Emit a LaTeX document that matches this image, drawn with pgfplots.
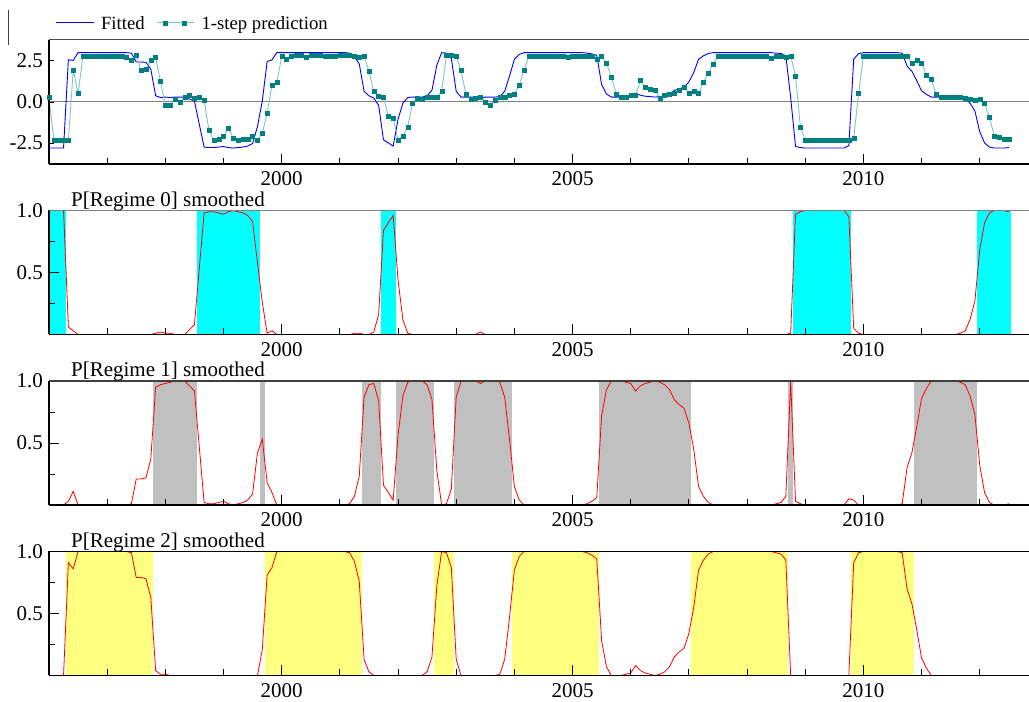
\documentclass[border=0pt]{standalone}
\usepackage{fontspec}
\setmainfont{Liberation Serif}
\usepackage{pgfplots}
\pgfplotsset{compat=1.18}
\usepackage{pgfplotstable}

\definecolor{fitblue}{RGB}{0,0,255}
\definecolor{predline}{RGB}{128,196,196}
\definecolor{predmark}{RGB}{0,128,128}
\definecolor{shcyan}{RGB}{0,255,255}
\definecolor{shgray}{RGB}{192,192,192}
\definecolor{shyellow}{RGB}{255,255,128}

\pgfplotstableread{
t fit pred p0 p1 p2
1996.0000 -2.80 0.28 1 0 0
1996.0833 -2.80 -2.31 1 0 0
1996.1667 -2.80 -2.31 1 0 0
1996.2500 -2.80 -2.31 1 0 0
1996.3333 2.57 -2.31 0.06 0.03 0.91
1996.4167 2.53 1.95 0.03 0.11 0.86
1996.5000 3.00 0.51 0 0 1
1996.5833 3.00 2.76 0 0 1
1996.6667 3.00 2.80 0 0 1
1996.7500 3.00 2.80 0 0 1
1996.8333 3.00 2.80 0 0 1
1996.9167 3.00 2.80 0 0 1
1997.0000 3.00 2.76 0 0 1
1997.0833 3.00 2.80 0 0 1
1997.1667 3.00 2.80 0 0 1
1997.2500 3.00 2.80 0 0 1
1997.3333 3.00 2.72 0 0 1
1997.4167 2.97 2.56 0 0.01 0.99
1997.5000 2.43 2.82 0 0.21 0.79
1997.5833 2.43 1.91 0 0.21 0.79
1997.6667 2.41 2.00 0 0.22 0.78
1997.7500 2.00 2.56 0 0.37 0.63
1997.8333 0.38 2.70 0.01 0.95 0.04
1997.9167 0.27 1.24 0.02 0.97 0.01
1998.0000 0.30 -0.22 0.01 0.98 0.01
1998.0833 0.27 -0.18 0.01 0.99 0
1998.1667 0.30 0.16 0 1 0
1998.2500 0.30 0.02 0 1 0
1998.3333 0.30 0.28 0 1 0
1998.4167 0.18 0.42 0.04 0.96 0
1998.5000 0.05 0.22 0.08 0.92 0
1998.5833 -1.35 0.32 0.53 0.47 0
1998.6667 -2.74 0.12 0.98 0.02 0
1998.7500 -2.77 -1.74 0.99 0.01 0
1998.8333 -2.77 -2.33 0.99 0.01 0
1998.9167 -2.74 -2.25 0.98 0.02 0
1999.0000 -2.71 -2.10 0.97 0.03 0
1999.0833 -2.77 -1.56 0.99 0.01 0
1999.1667 -2.80 -2.20 1 0 0
1999.2500 -2.77 -2.29 0.99 0.01 0
1999.3333 -2.74 -2.25 0.98 0.02 0
1999.4167 -2.68 -2.23 0.96 0.04 0
1999.5000 -2.52 -2.10 0.91 0.09 0
1999.5833 -1.50 -2.31 0.58 0.42 0
1999.6667 0.06 -1.90 0.26 0.53 0.21
1999.7500 2.46 -0.69 0.01 0.18 0.81
1999.8333 2.56 1.05 0.03 0.10 0.87
1999.9167 3.00 1.19 0 0 1
2000.0000 3.00 2.76 0 0 1
2000.0833 3.00 2.62 0 0 1
2000.1667 3.00 2.76 0 0 1
2000.2500 3.00 2.82 0 0 1
2000.3333 3.00 2.82 0 0 1
2000.4167 3.00 2.70 0 0 1
2000.5000 3.00 2.82 0 0 1
2000.5833 3.00 2.82 0 0 1
2000.6667 3.00 2.82 0 0 1
2000.7500 3.00 2.76 0 0 1
2000.8333 3.00 2.76 0 0 1
2000.9167 3.00 2.76 0 0 1
2001.0000 3.00 2.82 0 0 1
2001.0833 3.00 2.82 0 0 1
2001.1667 2.97 2.82 0 0.01 0.99
2001.2500 2.75 2.80 0.01 0.07 0.92
2001.3333 2.32 2.70 0.01 0.23 0.76
2001.4167 0.65 2.76 0 0.87 0.13
2001.5000 0.38 1.88 0 0.97 0.03
2001.5833 0.24 0.65 0.02 0.98 0
2001.6667 -0.20 0.37 0.16 0.84 0
2001.7500 -2.30 0.30 0.84 0.16 0
2001.8333 -2.49 -0.89 0.90 0.10 0
2001.9167 -2.68 -1.01 0.96 0.04 0
2002.0000 -1.06 -2.31 0.44 0.56 0
2002.0833 -0.07 -2.07 0.12 0.88 0
2002.1667 0.27 -1.50 0.01 0.99 0
2002.2500 0.30 -0.08 0 1 0
2002.3333 0.30 0.22 0 1 0
2002.4167 0.30 0.18 0 1 0
2002.5000 0.38 0.32 0 0.97 0.03
2002.5833 0.71 0.32 0 0.85 0.15
2002.6667 2.24 0.32 0 0.28 0.72
2002.7500 3.00 0.63 0 0 1
2002.8333 2.97 2.86 0 0.01 0.99
2002.9167 2.65 2.82 0 0.13 0.87
2003.0000 0.65 2.80 0 0.87 0.13
2003.0833 0.30 1.91 0 1 0
2003.1667 0.30 0.49 0 1 0
2003.2500 0.30 0.20 0 1 0
2003.3333 0.30 0.26 0 1 0
2003.4167 0.24 0.28 0.02 0.98 0
2003.5000 0.30 0.02 0 1 0
2003.5833 0.30 -0.20 0 1 0
2003.6667 0.30 0.12 0 1 0
2003.7500 0.33 0.30 0 0.99 0.01
2003.8333 0.65 0.32 0 0.87 0.13
2003.9167 1.57 0.39 0 0.53 0.47
2004.0000 2.60 0.47 0 0.15 0.85
2004.0833 2.89 1.03 0 0.04 0.96
2004.1667 3.00 1.95 0 0 1
2004.2500 3.00 2.80 0 0 1
2004.3333 3.00 2.80 0 0 1
2004.4167 3.00 2.80 0 0 1
2004.5000 3.00 2.80 0 0 1
2004.5833 3.00 2.80 0 0 1
2004.6667 3.00 2.80 0 0 1
2004.7500 3.00 2.80 0 0 1
2004.8333 3.00 2.80 0 0 1
2004.9167 3.00 2.72 0 0 1
2005.0000 3.00 2.80 0 0 1
2005.0833 3.00 2.80 0 0 1
2005.1667 3.00 2.80 0 0 1
2005.2500 2.97 2.80 0 0.01 0.99
2005.3333 2.92 2.80 0 0.03 0.97
2005.4167 2.84 2.60 0 0.06 0.94
2005.5000 1.06 2.80 0 0.72 0.28
2005.5833 0.49 2.35 0 0.93 0.07
2005.6667 0.30 1.54 0 1 0
2005.7500 0.30 0.49 0 1 0
2005.8333 0.30 0.28 0 1 0
2005.9167 0.33 0.32 0 0.99 0.01
2006.0000 0.35 0.41 0 0.98 0.02
2006.0833 0.52 0.39 0 0.92 0.08
2006.1667 0.41 1.30 0 0.96 0.04
2006.2500 0.35 0.91 0 0.98 0.02
2006.3333 0.33 0.79 0 0.99 0.01
2006.4167 0.30 0.71 0 1 0
2006.5000 0.33 0.24 0 0.99 0.01
2006.5833 0.38 0.41 0 0.97 0.03
2006.6667 0.49 0.45 0 0.93 0.07
2006.7500 0.71 0.55 0 0.85 0.15
2006.8333 0.81 0.69 0 0.81 0.19
2006.9167 0.89 0.93 0 0.78 0.22
2007.0000 1.22 0.53 0 0.66 0.34
2007.0833 1.79 0.63 0 0.45 0.55
2007.1667 2.60 0.53 0 0.15 0.85
2007.2500 2.81 1.22 0 0.07 0.93
2007.3333 2.95 1.74 0 0.02 0.98
2007.4167 3.00 2.33 0 0 1
2007.5000 3.00 2.80 0 0 1
2007.5833 3.00 2.80 0 0 1
2007.6667 3.00 2.80 0 0 1
2007.7500 3.00 2.80 0 0 1
2007.8333 3.00 2.80 0 0 1
2007.9167 3.00 2.80 0 0 1
2008.0000 3.00 2.80 0 0 1
2008.0833 3.00 2.80 0 0 1
2008.1667 3.00 2.80 0 0 1
2008.2500 3.00 2.80 0 0 1
2008.3333 3.00 2.80 0 0 1
2008.4167 3.00 2.64 0 0 1
2008.5000 2.97 2.80 0 0.01 0.99
2008.5833 2.95 2.80 0 0.02 0.98
2008.6667 2.81 2.72 0 0.07 0.93
2008.7500 0.27 2.80 0.01 0.99 0
2008.8333 -2.71 1.58 0.97 0.03 0
2008.9167 -2.77 -1.50 0.99 0.01 0
2009.0000 -2.80 -2.31 1 0 0
2009.0833 -2.80 -2.31 1 0 0
2009.1667 -2.80 -2.31 1 0 0
2009.2500 -2.80 -2.31 1 0 0
2009.3333 -2.80 -2.31 1 0 0
2009.4167 -2.80 -2.31 1 0 0
2009.5000 -2.80 -2.31 1 0 0
2009.5833 -2.80 -2.31 1 0 0
2009.6667 -2.80 -2.31 1 0 0
2009.7500 -2.65 -2.31 0.95 0.05 0
2009.8333 2.60 -2.21 0.05 0.04 0.91
2009.9167 2.94 0.51 0.01 0 0.99
2010.0000 3.00 2.80 0 0 1
2010.0833 3.00 2.80 0 0 1
2010.1667 3.00 2.80 0 0 1
2010.2500 3.00 2.80 0 0 1
2010.3333 3.00 2.80 0 0 1
2010.4167 3.00 2.80 0 0 1
2010.5000 3.00 2.80 0 0 1
2010.5833 3.00 2.80 0 0 1
2010.6667 2.97 2.80 0 0.01 0.99
2010.7500 2.19 2.80 0 0.30 0.70
2010.8333 1.87 2.39 0 0.42 0.58
2010.9167 1.30 2.56 0 0.63 0.37
2011.0000 0.68 2.39 0 0.86 0.14
2011.0833 0.46 1.62 0 0.94 0.06
2011.1667 0.30 1.38 0 1 0
2011.2500 0.30 0.47 0 1 0
2011.3333 0.30 0.28 0 1 0
2011.4167 0.30 0.28 0 1 0
2011.5000 0.30 0.28 0 1 0
2011.5833 0.30 0.28 0 1 0
2011.6667 0.27 0.28 0.01 0.99 0
2011.7500 0.21 0.22 0.03 0.97 0
2011.8333 -0.07 0.18 0.12 0.88 0
2011.9167 -0.54 0.12 0.27 0.73 0
2012.0000 -1.81 0.20 0.68 0.32 0
2012.0833 -2.49 -0.08 0.90 0.10 0
2012.1667 -2.74 -0.93 0.98 0.02 0
2012.2500 -2.80 -2.06 1 0 0
2012.3333 -2.80 -2.14 1 0 0
2012.4167 -2.80 -2.27 1 0 0
2012.5000 -2.77 -2.27 0.99 0.01 0
}\msdata

\newcommand{\tickfont}{\fontsize{21}{24}\selectfont}
\newcommand{\legfont}{\fontsize{18.7}{21}\selectfont}

\pgfplotsset{
  panel/.style={
    scale only axis, width=980pt, height=124pt,
    xmin=1996, xmax=2012.847,
    axis x line*=bottom, axis y line*=left,
    axis line style={black, line width=1.1pt, -},
    axis on top,
    xtick={2000,2005,2010},
    xticklabels={2000,2005,2010},
    minor xtick={1997,1998,1999,2001,2002,2003,2004,2006,2007,2008,2009,2011,2012},
    tick align=inside,
    major tick length=10pt, minor tick length=6pt,
    tick style={black, line width=0.8pt},
    ticklabel style={font=\tickfont},
    xticklabel style={inner ysep=7.5pt},
    yticklabel style={inner xsep=6pt},
    every axis title/.style={at={(0.0224,1)}, anchor=base west, inner sep=0pt, yshift=4pt, font=\tickfont},
  },
  prob/.style={panel, ymin=0, ymax=1, ytick={0.5,1}, yticklabels={0.5,1.0}, minor ytick={0.25,0.75}},
  fitleg/.style={legend image code/.code={\draw[##1] (0pt,0pt) -- (38pt,0pt);}},
  predleg/.style={legend image code/.code={\draw[##1, mark=none] (0pt,0pt) -- (37pt,0pt);
     \draw[##1] plot[only marks] coordinates {(8pt,0pt) (27pt,0pt)};}},
}

\begin{document}
\begin{tikzpicture}
\useasboundingbox (0,0) rectangle (1029pt,702pt);
\draw[black!75, line width=1pt] (8pt,692pt) -- (8pt,657pt);

% Panel 1
\begin{axis}[panel, at={(49pt,538pt)}, anchor=south west,
  ymin=-3.77, ymax=3.77, ytick={-2.5,0,2.5}, yticklabels={-2.5,0.0,2.5},
  ytick style={/pgfplots/major tick length=5pt},
  legend style={at={(0.0061,1.138)}, anchor=west, draw=none, fill=none, inner sep=0pt,
    nodes={inner sep=0pt, text depth=0pt},
    legend columns=-1, font=\legfont,
    /tikz/every odd column/.style={column sep=7pt},
    /tikz/every even column/.style={column sep=12pt}},
  legend cell align=left,
  after end axis/.append code={\draw[black!70, line width=1pt] (rel axis cs:0,1) -- (rel axis cs:1,1);}]
\addplot[gray, line width=1pt, forget plot] coordinates {(1996,0) (2012.847,0)};
\addplot[fitblue, line width=0.9pt, fitleg] table[x=t, y=fit] {\msdata};
\addlegendentry{Fitted}
\addplot[predline, line width=0.9pt, mark=square*, mark size=2pt,
  mark options={fill=predmark, draw=predmark, line width=0.3pt}, predleg] table[x=t, y=pred] {\msdata};
\addlegendentry{1-step prediction}
\end{axis}

% Panel 2
\begin{axis}[prob, at={(49pt,367.5pt)}, anchor=south west, title={P[Regime 0] smoothed},
  after end axis/.append code={\draw[gray, line width=1.2pt] (rel axis cs:0,1) -- (rel axis cs:1,1);}]
\addplot[draw=none, fill=shcyan] coordinates {(1995.9,1) (1996.2917,1)} \closedcycle;
\addplot[draw=none, fill=shcyan] coordinates {(1998.5417,1) (1999.6250,1)} \closedcycle;
\addplot[draw=none, fill=shcyan] coordinates {(2001.7083,1) (2001.9583,1)} \closedcycle;
\addplot[draw=none, fill=shcyan] coordinates {(2008.7917,1) (2009.7917,1)} \closedcycle;
\addplot[draw=none, fill=shcyan] coordinates {(2011.9583,1) (2012.5417,1)} \closedcycle;
\addplot[red, line width=0.8pt] table[x=t, y=p0] {\msdata};
\end{axis}

% Panel 3
\begin{axis}[prob, at={(49pt,197pt)}, anchor=south west, title={P[Regime 1] smoothed},
  after end axis/.append code={\draw[black!75, line width=1.2pt] (rel axis cs:0,1) -- (rel axis cs:1,1);}]
\addplot[draw=none, fill=shgray] coordinates {(1997.7917,1) (1998.5417,1)} \closedcycle;
\addplot[draw=none, fill=shgray] coordinates {(1999.6250,1) (1999.7083,1)} \closedcycle;
\addplot[draw=none, fill=shgray] coordinates {(2001.3750,1) (2001.7083,1)} \closedcycle;
\addplot[draw=none, fill=shgray] coordinates {(2001.9583,1) (2002.6250,1)} \closedcycle;
\addplot[draw=none, fill=shgray] coordinates {(2002.9583,1) (2003.9583,1)} \closedcycle;
\addplot[draw=none, fill=shgray] coordinates {(2005.4583,1) (2007.0417,1)} \closedcycle;
\addplot[draw=none, fill=shgray] coordinates {(2008.7083,1) (2008.7917,1)} \closedcycle;
\addplot[draw=none, fill=shgray] coordinates {(2010.8750,1) (2011.9583,1)} \closedcycle;
\addplot[red, line width=0.8pt] table[x=t, y=p1] {\msdata};
\end{axis}

% Panel 4
\begin{axis}[prob, at={(49pt,26.5pt)}, anchor=south west, title={P[Regime 2] smoothed},
  after end axis/.append code={\draw[black, line width=1.2pt] (rel axis cs:0,1) -- (rel axis cs:1,1);}]
\addplot[draw=none, fill=shyellow] coordinates {(1996.2917,1) (1997.7917,1)} \closedcycle;
\addplot[draw=none, fill=shyellow] coordinates {(1999.7083,1) (2001.3750,1)} \closedcycle;
\addplot[draw=none, fill=shyellow] coordinates {(2002.6250,1) (2002.9583,1)} \closedcycle;
\addplot[draw=none, fill=shyellow] coordinates {(2003.9583,1) (2005.4583,1)} \closedcycle;
\addplot[draw=none, fill=shyellow] coordinates {(2007.0417,1) (2008.7083,1)} \closedcycle;
\addplot[draw=none, fill=shyellow] coordinates {(2009.7917,1) (2010.8750,1)} \closedcycle;
\addplot[red, line width=0.8pt] table[x=t, y=p2] {\msdata};
\end{axis}
\end{tikzpicture}
\end{document}
